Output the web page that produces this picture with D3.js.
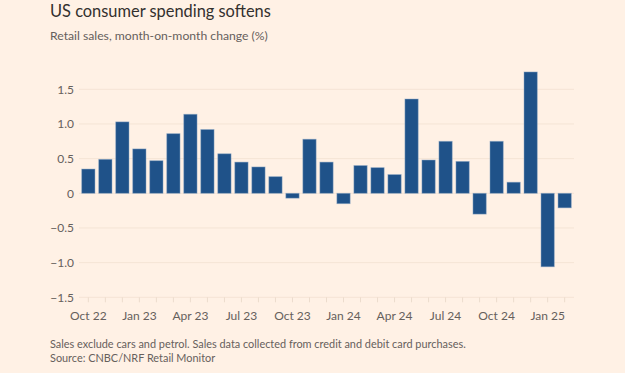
<!DOCTYPE html>
<html>
<head>
<meta charset="utf-8">
<script src="https://cdn.jsdelivr.net/npm/d3@7"></script>
<style>
  body { margin: 0; background: #fff1e5; }
  svg text { font-family: "Lato", "Noto Sans", sans-serif; }
</style>
</head>
<body>
<svg id="chart" width="625" height="373"></svg>
<script>
// months shown, one bar each
const months = ["Oct 22", "Nov 22", "Dec 22", "Jan 23", "Feb 23", "Mar 23", "Apr 23", "May 23",
    "Jun 23", "Jul 23", "Aug 23", "Sep 23", "Oct 23", "Nov 23", "Dec 23", "Jan 24", "Feb 24",
    "Mar 24", "Apr 24", "May 24", "Jun 24", "Jul 24", "Aug 24", "Sep 24", "Oct 24", "Nov 24",
    "Dec 24", "Jan 25", "Feb 25"];
// retail sales, month-on-month change (%)
const changes = [0.35, 0.49, 1.03, 0.64, 0.47, 0.86, 1.14, 0.92, 0.57, 0.45, 0.38, 0.24,
    -0.07, 0.78, 0.45, -0.15, 0.40, 0.37, 0.27, 1.36, 0.48, 0.75, 0.46, -0.30, 0.75,
    0.16, 1.75, -1.06, -0.21];
const yTicks = [-1.5, -1.0, -0.5, 0, 0.5, 1.0, 1.5];
const xLabels = ["Oct 22", "Jan 23", "Apr 23", "Jul 23", "Oct 23", "Jan 24", "Apr 24", "Jul 24", "Oct 24", "Jan 25"];

let svg = d3.select("#chart");

let x = d3.scaleBand()
    .domain(months)
    .range([80, 573])
    .paddingInner(0.22)
    .paddingOuter(0.1);

let y = d3.scaleLinear()
    .domain([-1.5, 1.5])
    .range([297.3, 89.3]);

// titles
svg.append("text")
    .attr("x", 50).attr("y", 17)
    .attr("font-size", 16.4)
    .attr("fill", "#33302e")
    .text("US consumer spending softens");
svg.append("text")
    .attr("x", 50).attr("y", 40)
    .attr("font-size", 12.2)
    .attr("fill", "#66605c")
    .text("Retail sales, month-on-month change (%)");

// grid lines
svg.append("g")
    .selectAll("line")
    .data(yTicks)
    .enter()
    .append("line")
    .attr("x1", 79).attr("x2", 574)
    .attr("y1", d => y(d)).attr("y2", d => y(d))
    .attr("stroke", "#f5e4d5")
    .attr("stroke-width", 1);

// y labels
svg.append("g")
    .selectAll("text")
    .data(yTicks)
    .enter()
    .append("text")
    .attr("x", 74)
    .attr("y", d => y(d))
    .attr("dy", "0.35em")
    .attr("text-anchor", "end")
    .attr("font-size", 12)
    .attr("fill", "#66605c")
    .text(d => d === 0 ? "0" : d3.format(".1f")(d));

// bars
svg.append("g")
    .selectAll("rect")
    .data(changes)
    .enter()
    .append("rect")
    .attr("x", (d, i) => x(months[i]))
    .attr("width", x.bandwidth())
    .attr("y", d => y(Math.max(0, d)))
    .attr("height", d => Math.abs(y(d) - y(0)))
    .attr("fill", "#1f5289")
    .attr("stroke", "#8aa6c4")
    .attr("stroke-opacity", 0.6)
    .attr("stroke-width", 0.8);

// x axis: month ticks and quarterly labels
let xAxis = svg.append("g").attr("transform", "translate(0," + y(-1.5) + ")");
xAxis.selectAll("line")
    .data(months)
    .enter()
    .append("line")
    .attr("x1", d => x(d) + x.bandwidth() / 2)
    .attr("x2", d => x(d) + x.bandwidth() / 2)
    .attr("y1", 0).attr("y2", 5)
    .attr("stroke", "#ecdccd");
xAxis.selectAll("text")
    .data(xLabels)
    .enter()
    .append("text")
    .attr("x", d => x(d) + x.bandwidth() / 2)
    .attr("y", 23)
    .attr("text-anchor", "middle")
    .attr("font-size", 12)
    .attr("fill", "#66605c")
    .text(d => d);

// footer
svg.append("text")
    .attr("x", 50).attr("y", 348)
    .attr("font-size", 10.9)
    .attr("fill", "#66605c")
    .text("Sales exclude cars and petrol. Sales data collected from credit and debit card purchases.");
svg.append("text")
    .attr("x", 50).attr("y", 362)
    .attr("font-size", 10.9)
    .attr("fill", "#66605c")
    .text("Source: CNBC/NRF Retail Monitor");
</script>
</body>
</html>
